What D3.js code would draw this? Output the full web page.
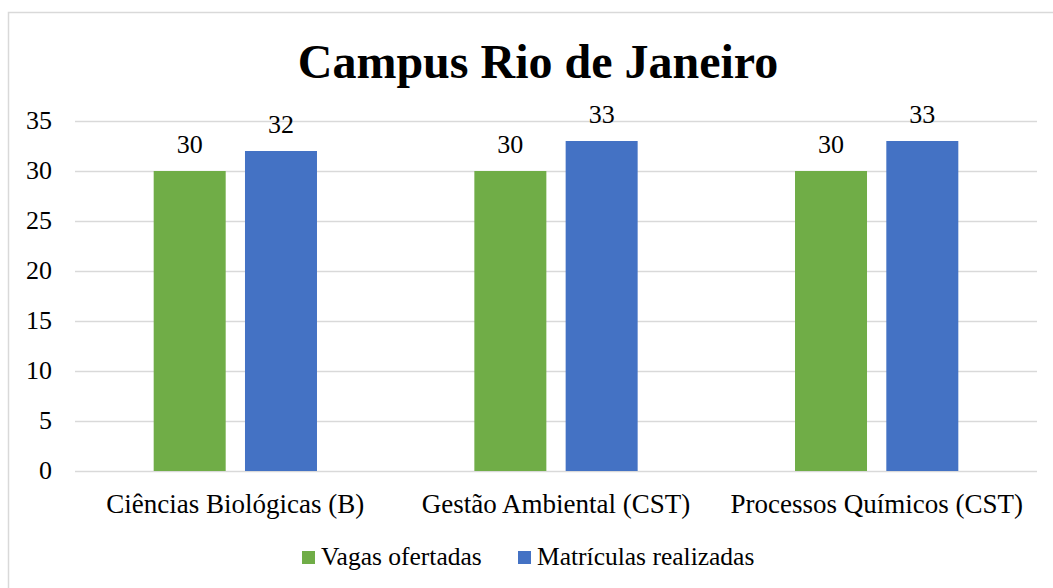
<!DOCTYPE html>
<html>
<head>
<meta charset="utf-8">
<script src="https://cdn.jsdelivr.net/npm/d3@7"></script>
<style>
  body { margin: 0; background: #fff; }
  svg text { font-family: "Liberation Serif", "Times New Roman", Times, serif; fill: #000; }
</style>
</head>
<body>
<div id="chart"></div>
<script>
// dados
var categorias = ["Ciências Biológicas (B)", "Gestão Ambiental (CST)", "Processos Químicos (CST)"];
var series = ["Vagas ofertadas", "Matrículas realizadas"];
var vagas = [30, 30, 30];
var matriculas = [32, 33, 33];
var ticks = [0, 5, 10, 15, 20, 25, 30, 35];
var cores = ["#70AD47", "#4472C4"];

var width = 1053, height = 588;
var margin = { left: 75, right: 16, top: 121, bottom: 117 };
var fonte = "'Liberation Serif', 'Times New Roman', Times, serif";

var svg = d3.select("#chart").append("svg")
    .attr("width", width)
    .attr("height", height)
    .attr("font-family", fonte);

// borda do gráfico
svg.append("rect")
    .attr("x", 8.5).attr("y", 12.5)
    .attr("width", 1060).attr("height", 600)
    .attr("fill", "none")
    .attr("stroke", "#D9D9D9")
    .attr("stroke-width", 1.5);

// título
svg.append("text")
    .attr("x", 538).attr("y", 78)
    .attr("text-anchor", "middle")
    .style("font-size", "48px")
    .style("font-weight", "bold")
    .text("Campus Rio de Janeiro");

var x0 = d3.scaleBand()
    .domain(categorias)
    .range([margin.left, width - margin.right]);

var y = d3.scaleLinear()
    .domain([0, 35])
    .range([height - margin.bottom, margin.top]);

// linhas de grade
svg.append("g").selectAll("line")
    .data(ticks)
    .enter().append("line")
    .attr("x1", margin.left).attr("x2", width - margin.right)
    .attr("y1", function(d) { return Math.round(y(d)) + 0.5; })
    .attr("y2", function(d) { return Math.round(y(d)) + 0.5; })
    .attr("stroke", "#D9D9D9")
    .attr("stroke-width", 1.5);

// eixo y
svg.append("g").selectAll("text")
    .data(ticks)
    .enter().append("text")
    .attr("x", 52)
    .attr("y", function(d) { return y(d) + 8; })
    .attr("text-anchor", "end")
    .style("font-size", "26px")
    .text(function(d) { return d; });

// rótulos de categoria
svg.append("g").selectAll("text")
    .data(categorias)
    .enter().append("text")
    .attr("x", function(d) { return x0(d) + x0.bandwidth() / 2; })
    .attr("y", 513)
    .attr("text-anchor", "middle")
    .style("font-size", "27px")
    .text(function(d) { return d; });

// barras
var barW = 72, gap = 19.3;
var dados = [vagas, matriculas];
var offsets = [-(gap / 2 + barW), gap / 2];

series.forEach(function(s, si) {
    var g = svg.append("g");
    g.selectAll("rect")
        .data(dados[si])
        .enter().append("rect")
        .attr("x", function(d, i) { return x0(categorias[i]) + x0.bandwidth() / 2 + offsets[si]; })
        .attr("y", function(d) { return y(d); })
        .attr("width", barW)
        .attr("height", function(d) { return y(0) - y(d); })
        .attr("fill", cores[si]);

    g.selectAll("text")
        .data(dados[si])
        .enter().append("text")
        .attr("x", function(d, i) { return x0(categorias[i]) + x0.bandwidth() / 2 + offsets[si] + barW / 2; })
        .attr("y", function(d) { return y(d) - 18; })
        .attr("text-anchor", "middle")
        .style("font-size", "26px")
        .text(function(d) { return d; });
});

// legenda
var legX = [302, 518];
var leg = svg.append("g").selectAll("g")
    .data(series)
    .enter().append("g")
    .attr("transform", function(d, i) { return "translate(" + legX[i] + ",551)"; });
leg.append("rect")
    .attr("width", 13).attr("height", 13)
    .attr("fill", function(d, i) { return cores[i]; });
leg.append("text")
    .attr("x", 19).attr("y", 14)
    .style("font-size", "25.5px")
    .text(function(d) { return d; });
</script>
</body>
</html>
